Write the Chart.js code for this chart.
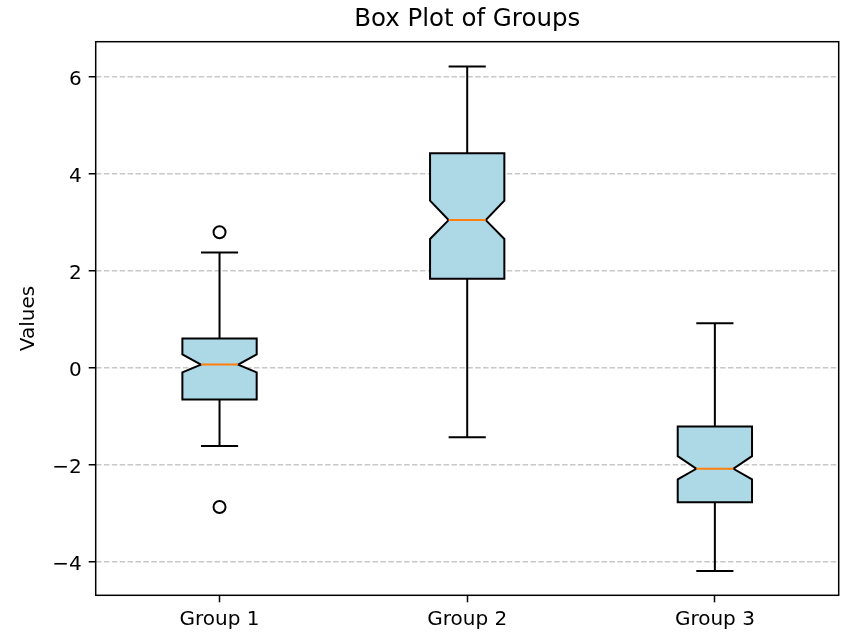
<!DOCTYPE html>
<html>
<head>
<meta charset="utf-8">
<script src="https://cdn.jsdelivr.net/npm/chart.js@4"></script>
<style>
  html, body { margin: 0; padding: 0; background: #fff; }
  #wrap { width: 865px; height: 634px; }
</style>
</head>
<body>
<div id="wrap"><canvas id="boxChart"></canvas></div>
<script>
// values
const groups = ['Group 1', 'Group 2', 'Group 3'];
const whiskerLow = [-1.61, -1.43, -4.19];
const q1 = [-0.65, 1.84, -2.77];
const notchLow = [-0.09, 2.66, -2.30];
const medians = [0.07, 3.05, -2.08];
const notchHigh = [0.28, 3.45, -1.82];
const q3 = [0.61, 4.43, -1.21];
const whiskerHigh = [2.38, 6.22, 0.92];
const outliers = [[2.80, -2.87], [], []];
const yTicks = [-4, -2, 0, 2, 4, 6];
const yMin = -4.69;
const yMax = 6.73;

const BOX_FRAC = 0.3; // box width as share of category step
Chart.defaults.font.family = "'DejaVu Sans', sans-serif";
Chart.defaults.color = '#000';

// draws the notched boxes, whiskers and the axes frame
const boxPlotPlugin = {
  id: 'boxPlot',
  beforeDatasetsDraw(chart) {
    const { ctx, scales: { x, y } } = chart;
    const step = x.getPixelForValue(1) - x.getPixelForValue(0);
    const w = step * BOX_FRAC;
    ctx.save();
    ctx.lineJoin = 'miter';
    groups.forEach((g, i) => {
      const cx = x.getPixelForValue(i);
      const l = cx - w / 2, r = cx + w / 2;
      const nl = cx - w / 4, nr = cx + w / 4;
      const yq1 = y.getPixelForValue(q1[i]);
      const yq3 = y.getPixelForValue(q3[i]);
      const ynl = y.getPixelForValue(notchLow[i]);
      const ynh = y.getPixelForValue(notchHigh[i]);
      const ymed = y.getPixelForValue(medians[i]);
      const ywl = y.getPixelForValue(whiskerLow[i]);
      const ywh = y.getPixelForValue(whiskerHigh[i]);

      // whiskers + caps
      ctx.strokeStyle = '#000';
      ctx.lineWidth = 2;
      ctx.beginPath();
      ctx.moveTo(cx, yq3); ctx.lineTo(cx, ywh);
      ctx.moveTo(cx, yq1); ctx.lineTo(cx, ywl);
      ctx.moveTo(nl, ywh); ctx.lineTo(nr, ywh);
      ctx.moveTo(nl, ywl); ctx.lineTo(nr, ywl);
      ctx.stroke();

      // notched box
      ctx.beginPath();
      ctx.moveTo(l, yq1);
      ctx.lineTo(l, ynl);
      ctx.lineTo(nl, ymed);
      ctx.lineTo(l, ynh);
      ctx.lineTo(l, yq3);
      ctx.lineTo(r, yq3);
      ctx.lineTo(r, ynh);
      ctx.lineTo(nr, ymed);
      ctx.lineTo(r, ynl);
      ctx.lineTo(r, yq1);
      ctx.closePath();
      ctx.fillStyle = '#add8e6';
      ctx.fill();
      ctx.stroke();

      // median
      ctx.strokeStyle = '#ff7f0e';
      ctx.beginPath();
      ctx.moveTo(nl, ymed); ctx.lineTo(nr, ymed);
      ctx.stroke();
    });
    ctx.restore();
  },
  afterDraw(chart) {
    const { ctx, chartArea: a } = chart;
    ctx.save();
    ctx.strokeStyle = '#000';
    ctx.lineWidth = 1.5;
    ctx.strokeRect(a.left, a.top, a.right - a.left, a.bottom - a.top);
    ctx.restore();
  }
};

const outlierPoints = groups.flatMap((g, i) => outliers[i].map(v => ({ x: g, y: v })));

new Chart(document.getElementById('boxChart'), {
  type: 'line',
  data: {
    labels: groups,
    datasets: [{
      label: 'Outliers',
      data: outlierPoints,
      showLine: false,
      pointStyle: 'circle',
      pointRadius: 6,
      pointBorderWidth: 2,
      pointBorderColor: '#000',
      pointBackgroundColor: '#fff'
    }]
  },
  options: {
    responsive: true,
    maintainAspectRatio: false,
    animation: false,
    layout: { padding: { left: 0, right: 26.3, top: 0, bottom: 0 } },
    plugins: {
      legend: { display: false },
      tooltip: { enabled: false },
      title: {
        display: true,
        fullSize: false,
        text: 'Box Plot of Groups',
        color: '#000',
        font: { size: 24.5, weight: 'normal' },
        padding: { top: 5.1, bottom: 7.2 }
      }
    },
    scales: {
      x: {
        type: 'category',
        offset: true,
        afterFit: s => { s.height = 38.7; },
        border: { display: false },
        grid: {
          drawOnChartArea: false,
          drawTicks: true,
          tickLength: 7,
          tickWidth: 1.5,
          tickColor: '#000'
        },
        ticks: { color: '#000', font: { size: 20 }, padding: 5.5 }
      },
      y: {
        min: yMin,
        max: yMax,
        afterBuildTicks: s => { s.ticks = yTicks.map(v => ({ value: v })); },
        afterFit: s => { s.width = 95.7; },
        border: { display: false, dash: [5.5, 2.4] },
        grid: {
          color: 'rgba(176,176,176,0.7)',
          lineWidth: 1.5,
          tickLength: 7,
          tickWidth: 1.5,
          tickColor: '#000',
          tickBorderDash: []
        },
        ticks: {
          color: '#000',
          font: { size: 20 },
          padding: 7,
          labelOffset: 2.5,
          callback: v => String(v).replace('-', '\u2212')
        },
        title: {
          display: true,
          text: 'Values',
          color: '#000',
          font: { size: 20 },
          padding: { top: 16.3, bottom: 0 }
        }
      }
    }
  },
  plugins: [boxPlotPlugin]
});
</script>
</body>
</html>
